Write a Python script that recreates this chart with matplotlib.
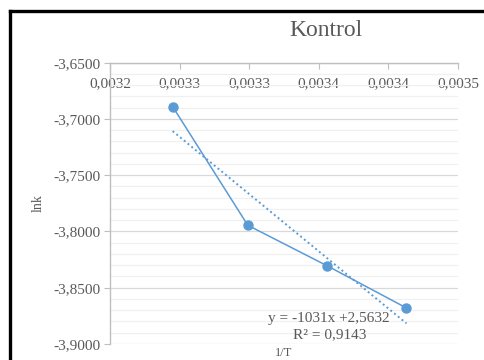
import matplotlib
matplotlib.use("Agg")
import matplotlib.pyplot as plt
from matplotlib.lines import Line2D
import numpy as np

# data
inv_T = [0.003245, 0.003299, 0.003356, 0.003413]
lnk = [-3.6890, -3.7945, -3.8305, -3.8680]

x_ticks = [0.00320, 0.00325, 0.00330, 0.00335, 0.00340, 0.00345]
x_labels = ["0,0032", "0,0033", "0,0033", "0,0034", "0,0034", "0,0035"]
y_ticks = [-3.90, -3.85, -3.80, -3.75, -3.70, -3.65]
y_labels = ["-3,9000", "-3,8500", "-3,8000", "-3,7500", "-3,7000", "-3,6500"]
y_minor = [-3.90 + 0.01 * i for i in range(26)]

eq_text = "y = -1031x +2,5632"
r2_text = "R² = 0,9143"

plt.rcParams['font.family'] = ['Liberation Serif', 'DejaVu Serif']

blue = '#5B9BD5'
grey_txt = '#595959'

fig = plt.figure(figsize=(4.85, 3.6), dpi=100)
ax = fig.add_axes([110/485, 1 - 344/360, 348/485, (344 - 62.7)/360])

# trendline from least squares fit
k, b = np.polyfit(inv_T, lnk, 1)
xt = np.array([inv_T[0], inv_T[-1]])
ax.plot(xt, k * xt + b, linestyle=(0, (1, 1.5)), color=blue, lw=1.4, zorder=3)

ax.plot(inv_T, lnk, '-o', color=blue, lw=1.1, markersize=6.5, zorder=4)

ax.set_xlim(x_ticks[0], x_ticks[-1])
ax.set_ylim(y_ticks[0], y_ticks[-1])

ax.set_yticks(y_ticks)
ax.set_yticklabels(y_labels)
ax.set_yticks(y_minor, minor=True)
ax.set_xticks(x_ticks)
ax.set_xticklabels(x_labels)

ax.grid(True, which='major', axis='y', color='#d9d9d9', lw=0.9)
ax.grid(True, which='minor', axis='y', color='#f0f0f0', lw=0.9)
ax.set_axisbelow(True)

for s in ['right', 'bottom']:
    ax.spines[s].set_visible(False)
for s in ['left', 'top']:
    ax.spines[s].set_color('#bfbfbf')
    ax.spines[s].set_linewidth(1.0)

ax.tick_params(axis='y', which='major', direction='out', length=4, color='#bfbfbf',
               labelsize=11, labelcolor=grey_txt, pad=3)
ax.tick_params(axis='y', which='minor', length=0)
ax.tick_params(axis='x', which='major', top=True, bottom=False, labeltop=True,
               labelbottom=False, direction='in', length=4, color='#bfbfbf',
               labelsize=11, labelcolor=grey_txt, pad=-20)

ax.text(0.63, 0.092, eq_text, transform=ax.transAxes, ha='center', va='center',
        fontsize=11, color=grey_txt)
ax.text(0.63, 0.034, r2_text, transform=ax.transAxes, ha='center', va='center',
        fontsize=11, color=grey_txt)

ax.set_ylabel('lnk', fontsize=10, color=grey_txt, labelpad=6)
fig.text(326/485, 1 - 30/360, 'Kontrol', ha='center', va='center', fontsize=17, color=grey_txt)
fig.text(284/485, 0.002, '1/T', ha='center', va='bottom', fontsize=9, color=grey_txt)

# outer frame (left and top edges visible)
fig.add_artist(Line2D([10/485, 10/485], [0, 1 - 11/360], transform=fig.transFigure,
                      color='black', lw=2.4))
fig.add_artist(Line2D([10/485, 1], [1 - 11/360, 1 - 11/360], transform=fig.transFigure,
                      color='black', lw=2.4))

fig.savefig('out.png', dpi=100)
